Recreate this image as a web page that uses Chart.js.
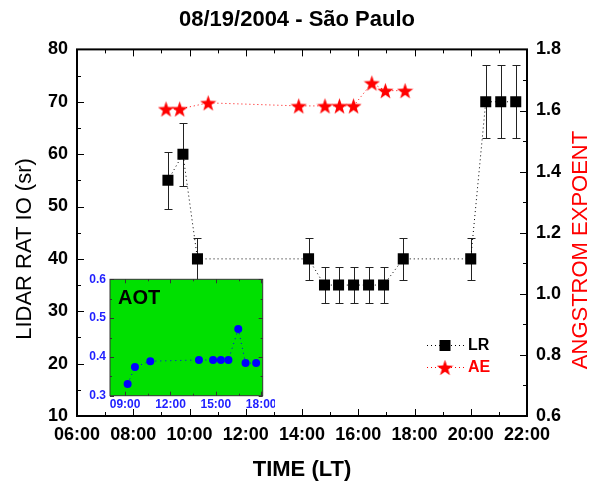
<!DOCTYPE html>
<html>
<head>
<meta charset="utf-8">
<title>08/19/2004 - São Paulo</title>
<script src="https://cdn.jsdelivr.net/npm/chart.js@4.4.1/dist/chart.umd.min.js"></script>
<style>
  html, body { margin: 0; padding: 0; background: #fff; }
  #wrap { position: relative; width: 594px; height: 483px; }
  #mainChart { position: absolute; left: 0; top: 0; }
  #aotChart { position: absolute; left: 80px; top: 265px; }
</style>
</head>
<body>
<div id="wrap">
  <canvas id="mainChart" width="594" height="483"></canvas>
  <canvas id="aotChart" width="195" height="150"></canvas>
</div>
<script>
const FONT = "'Liberation Sans', Arial, sans-serif";

// axis ticks
const timeTicks = ['06:00', '08:00', '10:00', '12:00', '14:00', '16:00', '18:00', '20:00', '22:00'];
const lrTicks = [10, 20, 30, 40, 50, 60, 70, 80];
const aeTicks = [0.6, 0.8, 1.0, 1.2, 1.4, 1.6, 1.8];

// lidar ratio (sr) with error bars
const lrTimes = ['09:14', '09:46', '10:17', '14:14', '14:48', '15:18', '15:50', '16:22', '16:54', '17:36', '20:00', '20:32', '21:04', '21:36'];
const lrValues = [55, 60, 40, 40, 35, 35, 35, 35, 35, 40, 40, 70, 70, 70];
const lrErrors = [5.5, 6, 4, 4, 3.5, 3.5, 3.5, 3.5, 3.5, 4, 4, 7, 7, 7];

// angstrom exponent
const aeTimes = ['09:10', '09:39', '10:40', '13:53', '14:49', '15:20', '15:50', '16:29', '16:58', '17:40'];
const aeValues = [1.605, 1.605, 1.625, 1.615, 1.615, 1.615, 1.615, 1.69, 1.665, 1.665];

// AOT inset
const aotTimes = ['09:10', '09:39', '10:40', '13:53', '14:49', '15:20', '15:50', '16:29', '16:58', '17:40'];
const aotValues = [0.33, 0.374, 0.389, 0.392, 0.392, 0.392, 0.392, 0.472, 0.384, 0.384];
const aotTicks = [0.3, 0.4, 0.5, 0.6];
const aotTimeTicks = ['09:00', '12:00', '15:00', '18:00'];

const toHours = s => {
    const [h, m] = s.split(':').map(Number);
    return h + m / 60;
};
const points = (times, values) => times.map((t, i) => ({ x: toHours(t), y: values[i] }));

const makeStar = (size, color) => {
    const c = document.createElement('canvas');
    c.width = c.height = size;
    const g = c.getContext('2d');
    const r = size / 2, ri = r * 0.4, dy = r * 0.1;
    g.beginPath();
    for (let k = 0; k < 10; k++) {
        const a = -Math.PI / 2 + k * Math.PI / 5;
        const rad = k % 2 ? ri : r;
        g.lineTo(r + rad * Math.cos(a), r + dy + rad * Math.sin(a));
    }
    g.closePath();
    g.fillStyle = color;
    g.fill();
    return c;
};
const redStar = makeStar(17, '#ff0000');

// box around the plot area with inward major/minor ticks
const framePlugin = {
    id: 'frame',
    afterDraw(chart, args, opts) {
        const { ctx, chartArea: a, scales } = chart;
        const marks = scale => {
            const major = scale.ticks.map(t => t.value);
            const minor = [];
            for (let i = 1; i < major.length; i++) minor.push((major[i - 1] + major[i]) / 2);
            return { major, minor };
        };
        ctx.save();
        ctx.strokeStyle = opts.color;
        ctx.lineWidth = opts.tickWidth;
        ctx.beginPath();
        const xm = marks(scales.x);
        [[xm.major, opts.major], [xm.minor, opts.minor]].forEach(([vals, len]) => vals.forEach(v => {
            const px = Math.round(scales.x.getPixelForValue(v)) + 0.5;
            ctx.moveTo(px, a.bottom); ctx.lineTo(px, a.bottom - len);
            ctx.moveTo(px, a.top); ctx.lineTo(px, a.top + len);
        }));
        const side = (scale, x0, dir) => {
            const m = marks(scale);
            [[m.major, opts.major], [m.minor, opts.minor]].forEach(([vals, len]) => vals.forEach(v => {
                const py = Math.round(scale.getPixelForValue(v)) + 0.5;
                ctx.moveTo(x0, py); ctx.lineTo(x0 + dir * len, py);
            }));
        };
        side(scales[opts.left], a.left, 1);
        side(scales[opts.right], a.right, -1);
        ctx.stroke();
        ctx.lineWidth = opts.lineWidth;
        ctx.strokeRect(a.left, a.top, a.right - a.left, a.bottom - a.top);
        ctx.restore();
    }
};

const errorBarPlugin = {
    id: 'errorBars',
    beforeDatasetsDraw(chart) {
        const { ctx, scales: { x, y } } = chart;
        ctx.save();
        ctx.strokeStyle = '#222';
        ctx.lineWidth = 1;
        ctx.beginPath();
        lrTimes.forEach((t, i) => {
            const px = Math.round(x.getPixelForValue(toHours(t))) + 0.5;
            const top = Math.round(y.getPixelForValue(lrValues[i] + lrErrors[i])) + 0.5;
            const bot = Math.round(y.getPixelForValue(lrValues[i] - lrErrors[i])) + 0.5;
            ctx.moveTo(px, top); ctx.lineTo(px, bot);
            ctx.moveTo(px - 4, top); ctx.lineTo(px + 4, top);
            ctx.moveTo(px - 4, bot); ctx.lineTo(px + 4, bot);
        });
        ctx.stroke();
        ctx.restore();
    }
};

// side titles and the legend box
const labelsPlugin = {
    id: 'labels',
    afterDraw(chart) {
        const { ctx } = chart;
        ctx.save();
        ctx.textAlign = 'center';
        ctx.textBaseline = 'middle';

        ctx.save();
        ctx.translate(25, 249);
        ctx.rotate(-Math.PI / 2);
        ctx.font = `22px ${FONT}`;
        ctx.fillStyle = '#000';
        ctx.fillText('LIDAR RAT IO (sr)', 0, 0);
        ctx.restore();

        ctx.save();
        ctx.translate(581, 250);
        ctx.rotate(-Math.PI / 2);
        ctx.font = `22px ${FONT}`;
        ctx.fillStyle = '#ff0000';
        ctx.fillText('ANGSTROM EXPOENT', 0, 0);
        ctx.restore();

        // legend
        ctx.lineWidth = 1;
        ctx.setLineDash([1, 3]);
        ctx.strokeStyle = '#000';
        ctx.beginPath(); ctx.moveTo(427, 345.5); ctx.lineTo(465, 345.5); ctx.stroke();
        ctx.strokeStyle = '#ff0000';
        ctx.beginPath(); ctx.moveTo(427, 367.5); ctx.lineTo(465, 367.5); ctx.stroke();
        ctx.setLineDash([]);
        ctx.fillStyle = '#000';
        ctx.fillRect(439.5, 340, 11, 11);
        ctx.drawImage(redStar, 436.5, 359);
        ctx.textAlign = 'left';
        ctx.font = `bold 16px ${FONT}`;
        ctx.fillText('LR', 468, 346);
        ctx.fillStyle = '#ff0000';
        ctx.fillText('AE', 468, 368);
        ctx.restore();
    }
};

const tickFont = { family: FONT, size: 18, weight: 'bold' };

new Chart(document.getElementById('mainChart'), {
    type: 'line',
    data: {
        datasets: [{
            label: 'LR',
            data: points(lrTimes, lrValues),
            yAxisID: 'y',
            borderColor: '#000',
            borderWidth: 1,
            borderDash: [1, 3],
            backgroundColor: '#000',
            pointStyle: 'rect',
            pointRadius: 7.8,
            pointBorderWidth: 0
        }, {
            label: 'AE',
            data: points(aeTimes, aeValues),
            yAxisID: 'y1',
            borderColor: '#ff0000',
            borderWidth: 1,
            borderDash: [1, 3],
            pointStyle: redStar,
            pointRadius: 8
        }]
    },
    options: {
        responsive: false,
        animation: false,
        devicePixelRatio: 1,
        layout: { padding: 0 },
        plugins: {
            legend: { display: false },
            tooltip: { enabled: false },
            title: {
                display: true,
                text: '08/19/2004 - São Paulo',
                color: '#000',
                font: { family: FONT, size: 22, weight: 'bold' },
                padding: { top: 7, bottom: 16 }
            },
            frame: { color: '#000', lineWidth: 2, tickWidth: 1, major: 7, minor: 4, left: 'y', right: 'y1' }
        },
        scales: {
            x: {
                type: 'linear',
                min: toHours(timeTicks[0]),
                max: toHours(timeTicks[timeTicks.length - 1]),
                grid: { display: false, drawTicks: false },
                border: { display: false },
                afterBuildTicks: s => { s.ticks = timeTicks.map(l => ({ value: toHours(l) })); },
                afterFit: s => { s.height = 67; },
                ticks: {
                    autoSkip: false, maxRotation: 0, padding: 8,
                    color: '#000', font: tickFont,
                    callback: (v, i) => timeTicks[i]
                },
                title: {
                    display: true, text: 'TIME (LT)', color: '#000',
                    font: { family: FONT, size: 22, weight: 'bold' },
                    padding: { top: 0, bottom: 0 }
                }
            },
            y: {
                position: 'left',
                min: lrTicks[0],
                max: lrTicks[lrTicks.length - 1],
                grid: { display: false, drawTicks: false },
                border: { display: false },
                afterBuildTicks: s => { s.ticks = lrTicks.map(v => ({ value: v })); },
                afterFit: s => { s.width = 77; },
                ticks: { padding: 9, color: '#000', font: tickFont }
            },
            y1: {
                position: 'right',
                min: aeTicks[0],
                max: aeTicks[aeTicks.length - 1],
                grid: { display: false, drawTicks: false },
                border: { display: false },
                afterBuildTicks: s => { s.ticks = aeTicks.map(v => ({ value: v })); },
                afterFit: s => { s.width = 67; },
                ticks: { padding: 9, color: '#000', font: tickFont, callback: v => v.toFixed(1) }
            }
        }
    },
    plugins: [framePlugin, errorBarPlugin, labelsPlugin]
});

// inset: aerosol optical thickness
const aotPlugin = {
    id: 'aotBox',
    beforeDatasetsDraw(chart) {
        const { ctx, chartArea: a } = chart;
        ctx.save();
        ctx.fillStyle = '#00e000';
        ctx.fillRect(a.left, a.top, a.right - a.left, a.bottom - a.top);
        ctx.restore();
    },
    afterDraw(chart) {
        const { ctx, chartArea: a } = chart;
        ctx.save();
        ctx.font = `bold 20px ${FONT}`;
        ctx.fillStyle = '#000';
        ctx.textBaseline = 'middle';
        ctx.fillText('AOT', a.left + 8, a.top + 19);
        ctx.restore();
    }
};

const insetFont = { family: FONT, size: 12, weight: 'bold' };

new Chart(document.getElementById('aotChart'), {
    type: 'line',
    data: {
        datasets: [{
            label: 'AOT',
            data: points(aotTimes, aotValues),
            borderColor: '#0000ff',
            borderWidth: 1,
            borderDash: [1, 4],
            backgroundColor: '#0000ff',
            pointRadius: 4,
            pointBorderWidth: 0
        }]
    },
    options: {
        responsive: false,
        animation: false,
        devicePixelRatio: 1,
        layout: { padding: { top: 14.3, right: 12.3, left: 0, bottom: 0 } },
        plugins: {
            legend: { display: false },
            tooltip: { enabled: false },
            frame: { color: '#333', lineWidth: 1, tickWidth: 1, major: 4, minor: 2, left: 'y', right: 'y' }
        },
        scales: {
            x: {
                type: 'linear', min: 8, max: 18.1,
                grid: { display: false, drawTicks: false },
                border: { display: false },
                afterBuildTicks: s => { s.ticks = aotTimeTicks.map(l => ({ value: toHours(l) })); },
                afterFit: s => { s.height = 19.3; s.paddingLeft = 0; s.paddingRight = 0; },
                ticks: {
                    autoSkip: false, maxRotation: 0, padding: 2,
                    color: '#1f1fff', font: insetFont,
                    callback: (v, i) => aotTimeTicks[i]
                }
            },
            y: {
                min: aotTicks[0], max: aotTicks[aotTicks.length - 1],
                grid: { display: false, drawTicks: false },
                border: { display: false },
                afterBuildTicks: s => { s.ticks = aotTicks.map(v => ({ value: v })); },
                afterFit: s => { s.width = 30; s.paddingTop = 0; s.paddingBottom = 0; },
                ticks: { padding: 4, color: '#1f1fff', font: insetFont, callback: v => v.toFixed(1) }
            }
        }
    },
    plugins: [framePlugin, aotPlugin]
});
</script>
</body>
</html>
